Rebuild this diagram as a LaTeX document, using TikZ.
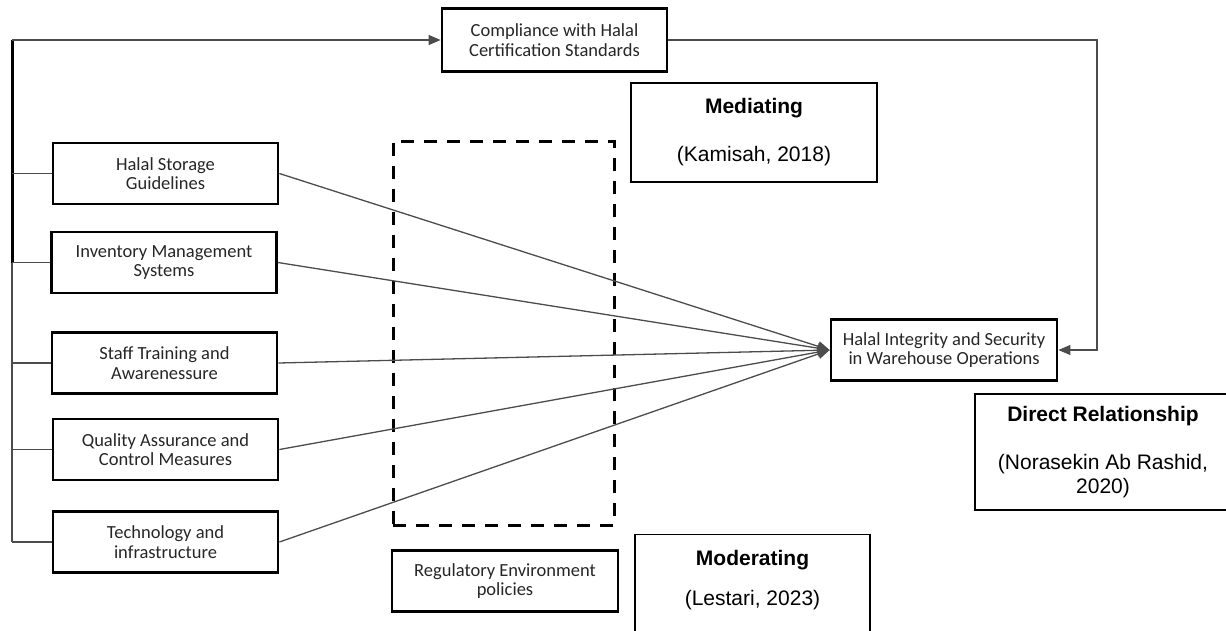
\documentclass[tikz,border=0pt]{standalone}
\usepackage{fontspec}
\setmainfont{Carlito}
\newfontfamily\notefont{Liberation Sans}
\usetikzlibrary{arrows.meta}
\tikzset{
  factor/.style={draw, line width=2.8pt, minimum width=225pt, minimum height=61pt,
    align=center, text=black!85, font=\fontsize{18.5}{19.5}\selectfont},
  note/.style={draw, line width=1.3pt, align=center, font=\notefont\fontsize{21}{24}\selectfont},
  modframe/.style={draw, line width=3pt, dash pattern=on 13pt off 10pt,
    minimum width=221pt, minimum height=384pt},
  link/.style={line width=1.3pt, draw=black!70},
  >={Triangle[length=12pt, width=10pt]}
}

\begin{document}
\begin{tikzpicture}[x=1pt, y=-1pt]
\useasboundingbox (0,0) rectangle (1226,630);
\clip (0,0) rectangle (1226,630);
% constructs
\node[factor] (storage) at (165.5,173.5) {Halal Storage\\Guidelines};
\node[factor] (inventory) at (164,262.5) {Inventory Management\\Systems};
\node[factor] (training) at (164.5,363) {Staff Training and\\Awarenessure};
\node[factor] (quality) at (165.5,449.5) {Quality Assurance and\\Control Measures};
\node[factor] (tech) at (165.5,542) {Technology and\\infrastructure};
\node[factor, minimum height=63pt] (compliance) at (554.5,40) {Compliance with Halal\\Certification Standards};
\node[factor, minimum width=226pt] (integrity) at (944,350) {Halal Integrity and Security\\in Warehouse Operations};
\node[factor, minimum width=226pt] (regulatory) at (505,581) {Regulatory Environment\\policies};
\node[modframe] (modzone) at (503.5,333) {};
% notes
\node[note, minimum width=246pt, minimum height=99pt] (mediating) at (754,132.5)
  {\textbf{Mediating}\\[24pt](Kamisah, 2018)};
\node[note, minimum width=256pt, minimum height=116pt] (direct) at (1103,452)
  {\textbf{Direct Relationship}\\[24pt](Norasekin Ab Rashid,\\2020)};
\node[note, minimum width=235pt, anchor=north, inner ysep=15.5pt, text depth=90pt] (moderating) at (752.5,534)
  {\textbf{Moderating}\\[16pt](Lestari, 2023)};
% spine on the left
\coordinate (spinetop) at (12,40);
\coordinate (spinemid) at (12,262.5);
\draw[line width=3pt] (spinetop) -- (spinemid);
\draw[link] (spinemid) -- (spinemid |- tech.west);
\foreach \f in {storage, inventory, training, quality, tech}
  \draw[link] (\f.west) -- (\f.west -| spinetop);
\draw[link, ->] (spinetop) -- (compliance.west);
% mediating loop
\coordinate (loopturn) at (1097,40);
\draw[link, ->] (compliance.east) -- (loopturn) |- (integrity.east);
% direct paths
\foreach \f in {storage, inventory, training, quality, tech}
  \draw[link, ->] (\f.east) -- (integrity.west);
\end{tikzpicture}
\end{document}
